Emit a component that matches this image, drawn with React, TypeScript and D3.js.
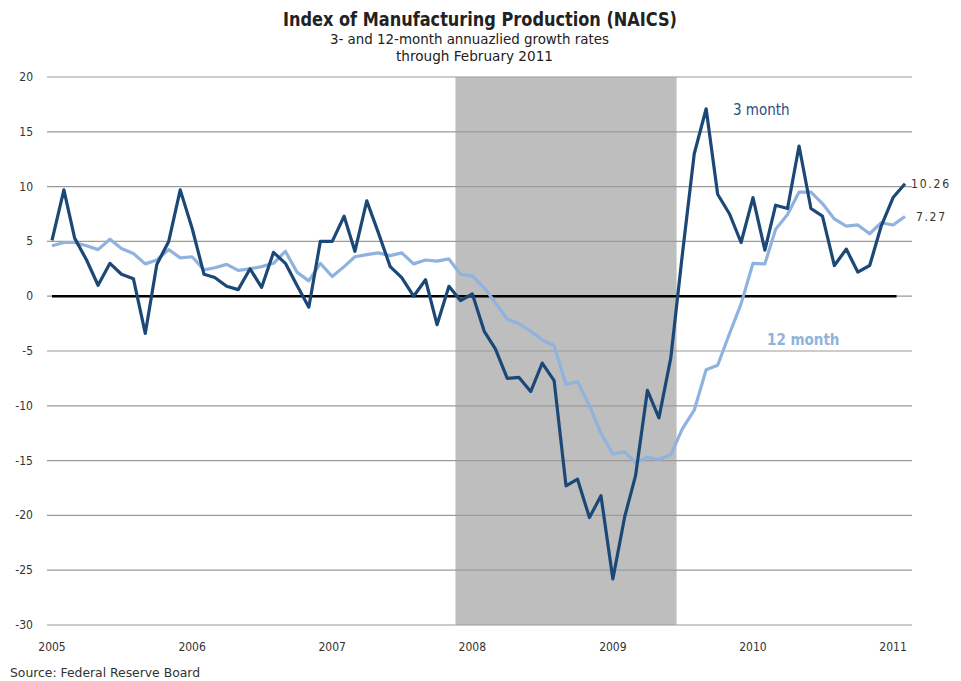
import * as d3 from "d3";
import { useEffect, useRef } from "react";

const W = 961;
const H = 681;

const margin = { top: 77, right: 49, bottom: 56, left: 47 };

// monthly, Jan 2005 - Feb 2011
const startMonth = new Date(2005, 0, 1);
const threeMonth = [
	5.1, 9.7, 5.3, 3.3, 1.0, 3.0, 2.0, 1.6, -3.4, 2.9, 5.0, 9.7,
	6.2, 2.0, 1.7, 0.9, 0.6, 2.5, 0.8, 4.0, 3.0, 1.0, -1.0, 5.0,
	5.0, 7.3, 4.1, 8.7, 5.8, 2.7, 1.7, 0.0, 1.5, -2.6, 0.9, -0.4,
	0.2, -3.2, -4.8, -7.5, -7.4, -8.7, -6.1, -7.7, -17.3, -16.7, -20.2, -18.2,
	-25.8, -20.1, -16.4, -8.6, -11.1, -5.6, 3.8, 13.0, 17.1, 9.3, 7.5, 4.9,
	9.0, 4.2, 8.3, 8.0, 13.7, 8.0, 7.3, 2.8, 4.3, 2.2, 2.8, 6.4,
	9.0, 10.26
];
const twelveMonth = [
	4.6, 4.9, 4.9, 4.6, 4.25, 5.2, 4.35, 3.9, 2.95, 3.3, 4.25, 3.5,
	3.6, 2.4, 2.6, 2.9, 2.35, 2.5, 2.7, 3.0, 4.1, 2.2, 1.4, 3.0,
	1.8, 2.7, 3.6, 3.8, 3.95, 3.7, 3.95, 2.95, 3.3, 3.2, 3.4, 2.0,
	1.85, 0.76, -0.6, -2.1, -2.5, -3.2, -4.0, -4.5, -8.05, -7.8, -10.0, -12.5,
	-14.4, -14.2, -15.2, -14.7, -14.9, -14.45, -12.1, -10.4, -6.7, -6.3, -3.4, -0.7,
	3.0, 2.95, 6.1, 7.45, 9.5, 9.5, 8.45, 7.05, 6.4, 6.5, 5.7, 6.7,
	6.5, 7.27
];
const yTicks = [20, 15, 10, 5, 0, -5, -10, -15, -20, -25, -30];
const yearTicks = [2005, 2006, 2007, 2008, 2009, 2010, 2011];
const recession = [new Date(2007, 10, 18), new Date(2009, 5, 16)];

const dark = "#1c4878";
const light = "#8fb3de";

const month = (i) => d3.timeMonth.offset(startMonth, i);

const App = () => {
	const ref = useRef(null);

	useEffect(() => {
		const svg = d3.select(ref.current);
		svg.selectAll("*").remove();

		const x = d3
			.scaleTime()
			.domain([month(0), month(threeMonth.length - 1)])
			.range([52, 905]);
		const y = d3.scaleLinear().domain([-30, 20]).range([H - margin.bottom, margin.top]);

		svg.append("rect").attr("width", W).attr("height", H).attr("fill", "#fff");

		// title
		const title = svg.append("g").attr("fill", "#222")
			.style("font-family", "'DejaVu Sans Condensed', sans-serif");
		title.append("text").attr("x", 283).attr("y", 26).attr("font-size", 19).attr("font-weight", "bold")
			.attr("textLength", 394).attr("lengthAdjust", "spacingAndGlyphs")
			.text("Index of Manufacturing Production (NAICS)");
		title.append("text").attr("x", 330).attr("y", 44).attr("font-size", 14)
			.attr("textLength", 279).attr("lengthAdjust", "spacingAndGlyphs")
			.text("3- and 12-month annuazlied growth rates");
		title.append("text").attr("x", 396).attr("y", 61).attr("font-size", 14)
			.attr("textLength", 157).attr("lengthAdjust", "spacingAndGlyphs")
			.text("through February 2011");

		// recession
		svg.append("rect")
			.attr("x", x(recession[0]))
			.attr("y", y(20))
			.attr("width", x(recession[1]) - x(recession[0]))
			.attr("height", y(-30) - y(20))
			.attr("fill", "#bebebe");

		// grid
		svg.append("g")
			.selectAll("line")
			.data(yTicks)
			.join("line")
			.attr("x1", margin.left)
			.attr("x2", W - margin.right)
			.attr("y1", d => y(d))
			.attr("y2", d => y(d))
			.attr("stroke", "#9a9a9a")
			.attr("stroke-width", 1.2);

		const font = "'DejaVu Sans Condensed', sans-serif";

		svg.append("g")
			.selectAll("text")
			.data(yTicks)
			.join("text")
			.attr("x", 33)
			.attr("y", d => y(d) + 4)
			.attr("text-anchor", "end")
			.attr("font-size", 12)
			.attr("fill", "#333")
			.style("font-family", font)
			.text(d => d);

		svg.append("g")
			.selectAll("text")
			.data(yearTicks)
			.join("text")
			.attr("x", d => x(new Date(d, 0, 1)))
			.attr("y", H - 30)
			.attr("text-anchor", "middle")
			.attr("font-size", 12)
			.attr("fill", "#333")
			.style("font-family", font)
			.text(d => d);

		// zero line
		svg.append("line")
			.attr("x1", x(month(0)))
			.attr("x2", x(new Date(2011, 0, 10)))
			.attr("y1", y(0))
			.attr("y2", y(0))
			.attr("stroke", "#000")
			.attr("stroke-width", 2.5);

		const line = d3.line()
			.x((d, i) => x(month(i)))
			.y(d => y(d));

		svg.append("path")
			.datum(twelveMonth)
			.attr("d", line)
			.attr("fill", "none")
			.attr("stroke", light)
			.attr("stroke-width", 3.2)
			.attr("stroke-linejoin", "round");

		svg.append("path")
			.datum(threeMonth)
			.attr("d", line)
			.attr("fill", "none")
			.attr("stroke", dark)
			.attr("stroke-width", 3.2)
			.attr("stroke-linejoin", "round");

		// series labels
		svg.append("text").attr("x", 733).attr("y", 115).attr("font-size", 15).attr("fill", "#2a4f80")
			.style("font-family", font)
			.text("3 month");
		svg.append("text").attr("x", 767).attr("y", 345).attr("font-size", 15).attr("font-weight", "bold")
			.attr("fill", light)
			.style("font-family", font)
			.text("12 month");

		const last = threeMonth.length - 1;
		svg.append("text").attr("x", x(month(last)) + 6).attr("y", y(threeMonth[last]) + 4)
			.attr("font-size", 12).attr("fill", "#333").style("font-family", font)
			.attr("textLength", 38).attr("lengthAdjust", "spacing")
			.text(threeMonth[last].toFixed(2));
		svg.append("text").attr("x", x(month(last)) + 11).attr("y", y(twelveMonth[last]) + 4)
			.attr("font-size", 12).attr("fill", "#333").style("font-family", font)
			.attr("textLength", 29).attr("lengthAdjust", "spacing")
			.text(twelveMonth[last].toFixed(2));

		svg.append("text").attr("x", 10).attr("y", 677).attr("font-size", 13).attr("fill", "#333")
			.style("font-family", font)
			.attr("textLength", 190).attr("lengthAdjust", "spacingAndGlyphs")
			.text("Source: Federal Reserve Board");
	}, []);

	return (
		<svg ref={ref} width={W} height={H} style={{ position: "absolute", left: 0, top: 0 }}></svg>
	);
};

export default App;
